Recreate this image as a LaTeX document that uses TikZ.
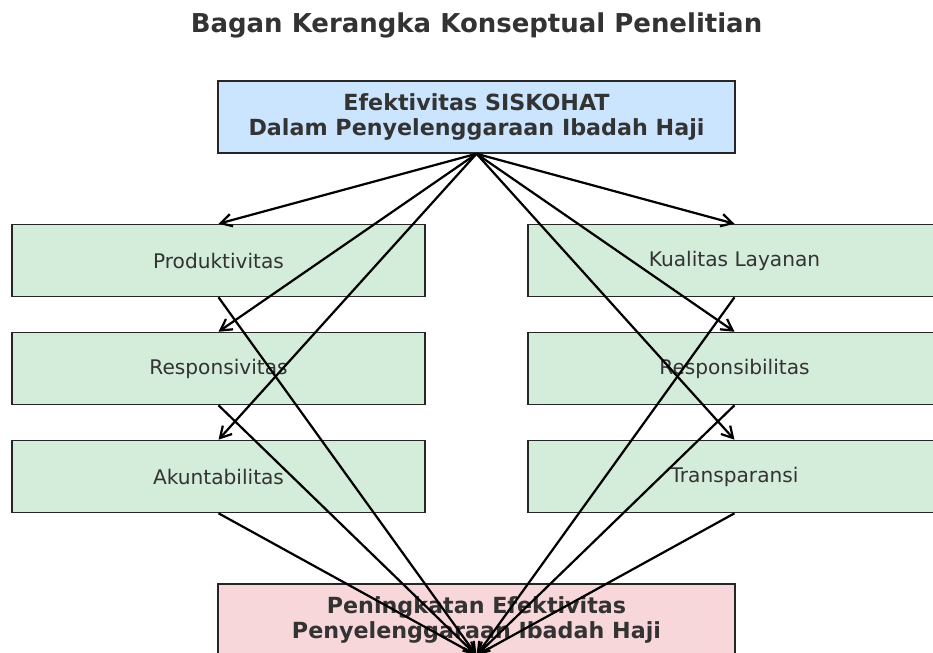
\documentclass[tikz,border=0pt]{standalone}
\usepackage{fontspec}
\setmainfont{DejaVu Sans}
\usetikzlibrary{positioning,arrows.meta}
\definecolor{topbox}{HTML}{CCE5FF}
\definecolor{aspect}{HTML}{D4EDDA}
\definecolor{result}{HTML}{F8D7DA}
\definecolor{txt}{HTML}{333333}

\begin{document}
\begin{tikzpicture}[
    x=0.72pt, y=-0.72pt,
    box/.style={draw=black!85, line width=1.1pt, minimum height=72*0.72pt, align=center, text=txt, inner sep=0pt},
    main/.style={box, minimum width=517*0.72pt, font=\fontsize{16}{18}\selectfont\bfseries},
    item/.style={box, fill=aspect, minimum width=413*0.72pt, font=\fontsize{14.5}{17}\selectfont},
    arrow/.style={-{Straight Barb[length=8pt,width=9pt,line width=1.6pt]}, line width=1.6pt, black}
]
\useasboundingbox (0,0) rectangle (933,652);

% Title
\node[font=\fontsize{18.7}{22}\selectfont\bfseries, text=txt] (title) at (476.5,25) {Bagan Kerangka Konseptual Penelitian};

% Top box
\node[main, fill=topbox] (efek) at (476.5,117) {Efektivitas SISKOHAT\\Dalam Penyelenggaraan Ibadah Haji};

% Left column
\node[item] (prod) at (218.5,260.5) {Produktivitas};
\node[item] (resp) at (218.5,368.5) {Responsivitas};
\node[item] (akun) at (218.5,476.5) {Akuntabilitas};

% Right column
\node[item] (kual) at (734.5,260.5) {Kualitas Layanan};
\node[item] (tang) at (734.5,368.5) {Responsibilitas};
\node[item] (tran) at (734.5,476.5) {Transparansi};

% Bottom box
\node[main, fill=result] (hasil) at (476.5,620) {Peningkatan Efektivitas\\Penyelenggaraan Ibadah Haji};

% Arrows from top box
\foreach \n in {prod,resp,akun,kual,tang,tran}
    \draw[arrow] (efek.south) -- (\n.north);

% Arrows to bottom box
\foreach \n in {prod,resp,akun,kual,tang,tran}
    \draw[arrow] (\n.south) -- ([yshift=1pt]hasil.south);

\end{tikzpicture}
\end{document}
